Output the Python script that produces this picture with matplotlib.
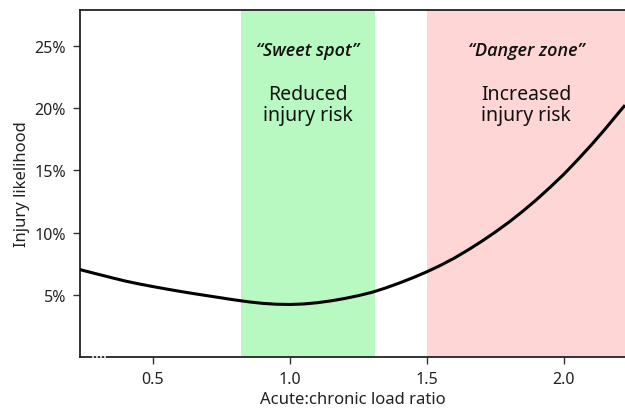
import matplotlib
matplotlib.use("Agg")
import matplotlib.pyplot as plt
from matplotlib.ticker import FuncFormatter

# data
ratio = [0.234, 0.25, 0.30, 0.35, 0.40, 0.45, 0.50, 0.55, 0.60, 0.65, 0.70, 0.75,
         0.80, 0.85, 0.90, 0.95, 1.00, 1.05, 1.10, 1.15, 1.20, 1.25, 1.30, 1.35,
         1.40, 1.45, 1.50, 1.55, 1.60, 1.65, 1.70, 1.75, 1.80, 1.85, 1.90, 1.95,
         2.00, 2.05, 2.10, 2.15, 2.20, 2.223]
likelihood = [7.03, 6.93, 6.65, 6.37, 6.10, 5.87, 5.66, 5.46, 5.27, 5.09, 4.92, 4.75,
              4.58, 4.43, 4.31, 4.24, 4.22, 4.26, 4.36, 4.51, 4.70, 4.93, 5.20, 5.55,
              5.95, 6.38, 6.85, 7.37, 7.95, 8.60, 9.30, 10.05, 10.85, 11.72, 12.65, 13.65,
              14.70, 15.85, 17.05, 18.32, 19.65, 20.25]
sweet_spot = (0.82, 1.31)
danger_zone = (1.5, 2.223)
rug = [0.28, 0.295, 0.31, 0.325]
x_ticks = [0.5, 1.0, 1.5, 2.0]
y_ticks = [5, 10, 15, 20, 25]

plt.rcParams['font.family'] = ['Noto Sans', 'DejaVu Sans']

fig = plt.figure(figsize=(6.25, 4.1), dpi=100)
ax = fig.add_axes([0.128, 0.127, 0.872, 0.846])

ax.axvspan(*sweet_spot, color='#b8f9c2', lw=0, zorder=0)
ax.axvspan(*danger_zone, color='#ffd6d6', lw=0, zorder=0)
ax.plot(ratio, likelihood, color='black', lw=2.2, zorder=3, solid_capstyle='butt')

ax.set_xlim(0.234, 2.223)
ax.set_ylim(0, 27.9)
ax.set_xticks(x_ticks)
ax.set_yticks(y_ticks)
ax.yaxis.set_major_formatter(FuncFormatter(lambda v, p: f"{v:.0f}%"))
ax.xaxis.set_major_formatter(FuncFormatter(lambda v, p: f"{v:.1f}"))
ax.tick_params(axis='both', labelsize=11.5, length=5, width=1, color='#333333',
               labelcolor='#222222', pad=5)

for s in ['left', 'bottom', 'top']:
    ax.spines[s].set_color('#222222')
    ax.spines[s].set_linewidth(1.3)
ax.spines['right'].set_visible(False)

for r in rug:
    ax.plot([r, r], [0, 0.15], color='white', lw=1.2, zorder=5, clip_on=False)

ax.set_xlabel('Acute:chronic load ratio', fontsize=12, color='#222222', labelpad=3)
ax.set_ylabel('Injury likelihood', fontsize=12, color='#222222', labelpad=3)

sx = sum(sweet_spot) / 2
dx = sum(danger_zone) / 2
italic_fam = ['Open Sans', 'DejaVu Sans']
ax.text(sx, 24.7, '\u201cSweet spot\u201d', ha='center', va='center', fontsize=13,
        fontstyle='italic', fontweight=600, family=italic_fam, color='#111111')
ax.text(sx, 20.3, 'Reduced\ninjury risk', ha='center', va='center', fontsize=14,
        color='#111111', fontweight='medium', linespacing=1.05)
ax.text(dx, 24.7, '\u201cDanger zone\u201d', ha='center', va='center', fontsize=13,
        fontstyle='italic', fontweight=600, family=italic_fam, color='#111111')
ax.text(dx, 20.3, 'Increased\ninjury risk', ha='center', va='center', fontsize=14,
        color='#111111', fontweight='medium', linespacing=1.05)

fig.savefig('out.png', dpi=100)
